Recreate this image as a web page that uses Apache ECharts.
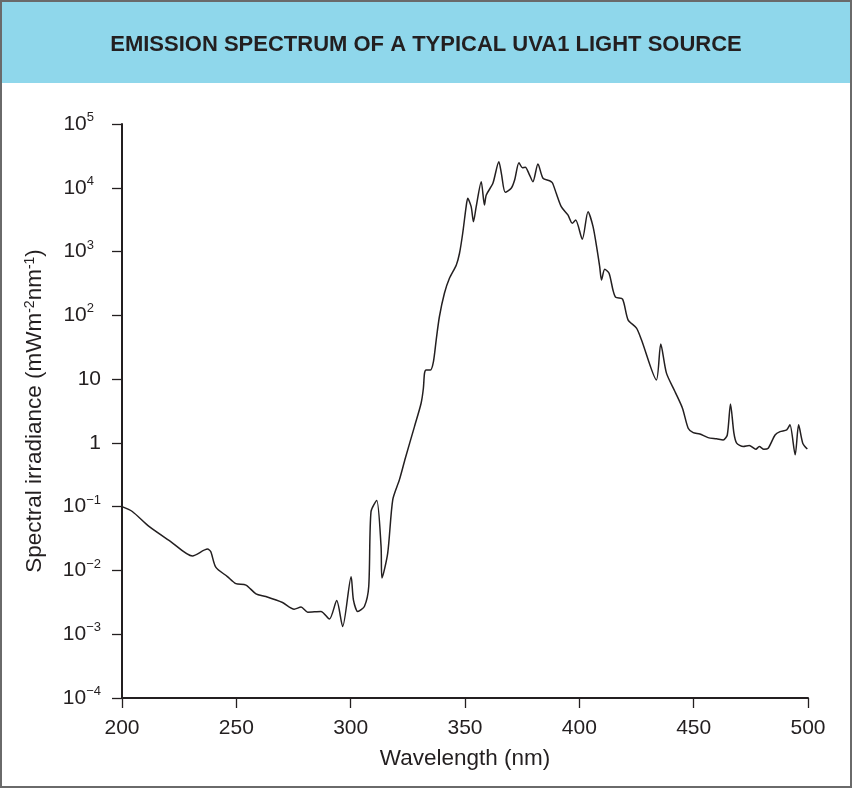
<!DOCTYPE html>
<html>
<head>
<meta charset="utf-8">
<style>
  html, body { margin: 0; padding: 0; background: #fff; }
  #main { width: 852px; height: 788px; }
</style>
<script src="https://cdn.jsdelivr.net/npm/echarts@6/dist/echarts.min.js"></script>
</head>
<body>
<div id="main"></div>
<script>
// wavelength (nm) and spectral irradiance (mW m^-2 nm^-1)
var wavelength = [
    200, 204.5, 211.8, 221.3, 230.8, 237.4, 238.8, 241.0, 246.1, 249.8,
    254.2, 258.6, 262.9, 270.2, 275.3, 278.3, 281.2, 287.0, 290.7, 293.9,
    296.5, 300.2, 301.2, 303.1, 306.0, 307.9, 308.9, 311.4, 313.3, 313.7,
    316.2, 318.4, 321.3, 323.9, 327.9, 330.8, 331.8, 332.3, 333.0, 334.9,
    336.2, 337.4, 338.8, 341.0, 343.2, 346.2, 347.6, 349.0, 350.5, 351.2,
    352.7, 353.7, 354.9, 357.1, 358.5, 359.3, 362.2, 364.8, 365.9, 367.6,
    370.2, 371.7, 373.6, 375.1, 376.4, 377.9, 379.7, 381.9, 384.1, 387.0,
    388.2, 389.9, 392.1, 395.0, 396.9, 398.4, 401.3, 403.8, 406.0, 407.9,
    408.9, 409.7, 411.1, 413.0, 414.7, 415.9, 418.9, 421.3, 425.0, 427.2,
    433.7, 435.6, 438.1, 441.8, 445.1, 447.6, 449.8, 452.7, 456.3, 460.0,
    462.9, 464.7, 466.1, 467.6, 468.8, 471.7, 474.3, 477.2, 478.7, 480.7,
    482.6, 485.6, 487.8, 490.7, 492.1, 494.4, 495.9, 497.7, 499.7
];
var irradiance = [
    0.1, 0.084, 0.049, 0.0284, 0.0169, 0.0216, 0.0198, 0.0113, 0.0080, 0.0062,
    0.0059, 0.0043, 0.0039, 0.00314, 0.00247, 0.00266, 0.00222, 0.00227, 0.00173, 0.00337,
    0.00132, 0.0080, 0.00346, 0.00227, 0.00272, 0.0056, 0.0838, 0.125, 0.0237, 0.0076,
    0.0187, 0.128, 0.263, 0.575, 1.8, 4.19, 7.2, 12.4, 13.9, 13.9,
    18.8, 41, 95, 222, 381, 617, 940, 1936, 5060, 6840,
    5060, 2944, 5060, 12470, 5370, 7710, 11770, 25650, 16870, 8500,
    9820, 13250, 24700, 20650, 20900, 16870, 12470, 23600, 14100, 12900,
    12000, 8200, 5060, 3750, 2780, 3130, 1560, 4220, 2455, 1000,
    580, 359, 528, 457, 250, 192, 179, 85, 63, 41,
    9.7, 35.6, 12.4, 6.4, 3.5, 1.70, 1.45, 1.38, 1.21, 1.16,
    1.11, 1.33, 4.08, 1.42, 0.99, 0.875, 0.908, 0.796, 0.875, 0.796,
    0.826, 1.33, 1.50, 1.60, 1.92, 0.649, 1.92, 0.99, 0.80
];

var titleText = 'EMISSION SPECTRUM OF A TYPICAL UVA1 LIGHT SOURCE';
var xTitle = 'Wavelength (nm)';
var yTitle = 'Spectral irradiance (mWm{sup|-2}nm{sup|-1})';

var ink = '#231f20';
var font = 'Liberation Sans, Arial, Helvetica, sans-serif';

var seriesData = wavelength.map(function (w, i) {
    return [w, irradiance[i]];
});

function logLabel(v) {
    var e = Math.round(Math.log10(v));
    if (e === 0) return '{b|1}';
    if (e === 1) return '{b|10}';
    if (e < 0) return '{b|10}{sup|\u2212' + (-e) + '}';
    return '{b|10}{supp|' + e + '}';
}

var myChart = echarts.init(document.getElementById('main'));
var option = {
    backgroundColor: '#ffffff',
    animation: false,
    title: {
        text: titleText,
        left: 'center',
        top: 29,
        textStyle: {
            fontFamily: font,
            fontSize: 22,
            fontWeight: 'bold',
            color: ink
        }
    },
    graphic: [
        {
            type: 'rect',
            z: -10,
            shape: {x: 0, y: 0, width: 852, height: 83},
            style: {fill: '#8fd7eb'}
        },
        {
            type: 'rect',
            z: 100,
            shape: {x: 1, y: 1, width: 850, height: 786},
            style: {fill: 'none', stroke: '#6a6a6a', lineWidth: 2}
        }
    ],
    grid: {
        left: 122,
        right: 44,
        top: 124,
        bottom: 90
    },
    xAxis: {
        type: 'value',
        min: 200,
        max: 500,
        interval: 50,
        name: xTitle,
        nameLocation: 'middle',
        nameGap: 49,
        nameTextStyle: {fontFamily: font, fontSize: 22.5, color: ink},
        axisLine: {lineStyle: {color: ink, width: 2}},
        axisTick: {length: 10, lineStyle: {color: ink, width: 1.3}},
        axisLabel: {fontFamily: font, fontSize: 21, color: ink, margin: 20},
        splitLine: {show: false}
    },
    yAxis: {
        type: 'log',
        logBase: 10,
        min: 1e-4,
        max: 1e5,
        splitNumber: 9,
        name: yTitle,
        nameLocation: 'middle',
        nameGap: 76,
        nameTextStyle: {
            fontFamily: font,
            fontSize: 22.5,
            color: ink,
            rich: {
                sup: {fontFamily: font, fontSize: 14, color: ink, verticalAlign: 'top', lineHeight: 14}
            }
        },
        axisLine: {show: true, lineStyle: {color: ink, width: 2}},
        axisTick: {show: true, length: 10, lineStyle: {color: ink, width: 1.3}},
        axisLabel: {
            margin: 21,
            formatter: logLabel,
            rich: {
                b: {fontFamily: font, fontSize: 21, color: ink, lineHeight: 26},
                sup: {fontFamily: font, fontSize: 13, color: ink, verticalAlign: 'top', lineHeight: 13},
                supp: {fontFamily: font, fontSize: 13, color: ink, verticalAlign: 'top', lineHeight: 13, padding: [0, 7, 0, 0]}
            }
        },
        splitLine: {show: false}
    },
    series: [{
        type: 'line',
        data: seriesData,
        showSymbol: false,
        smooth: 0.25,
        lineStyle: {color: ink, width: 1.5},
        silent: true
    }]
};
myChart.setOption(option);
</script>
</body>
</html>
